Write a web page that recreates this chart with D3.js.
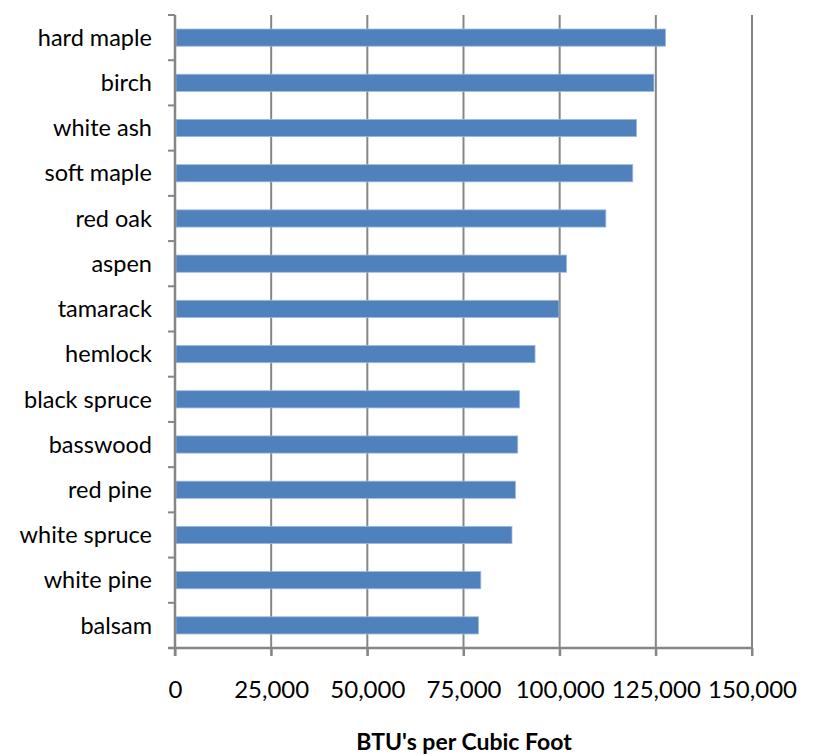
<!DOCTYPE html>
<html><head><meta charset="utf-8">
<script src="https://cdn.jsdelivr.net/npm/d3@7"></script>
<style>body{margin:0;background:#fff}svg{display:block}</style>
</head><body>
<svg id="c" width="814" height="756"></svg>
<script>
const categories = ["hard maple","birch","white ash","soft maple","red oak","aspen","tamarack","hemlock","black spruce","basswood","red pine","white spruce","white pine","balsam"];
const values = [127500,124500,120000,119000,112000,101800,99800,93600,89600,89100,88500,87600,79500,78900];
const xTicks = [0,25000,50000,75000,100000,125000,150000];
const xTitle = "BTU's per Cubic Foot";

(function(){
const svg = d3.select("#c");
const L = 175, R = 752, T = 15, B = 648;
const font = "Lato, 'Open Sans', sans-serif";

const x = d3.scaleLinear().domain([0,150000]).range([L,R]);
const y = d3.scaleBand().domain(categories).range([T,B]).paddingInner(0.62).paddingOuter(0.31);

// gridlines
svg.append("g").selectAll("line").data(xTicks.filter(d=>d>0)).join("line")
  .attr("x1",d=>x(d)).attr("x2",d=>x(d)).attr("y1",T).attr("y2",B+8)
  .attr("stroke","#868686").attr("stroke-width",2);

// bars
svg.append("g").selectAll("rect").data(categories).join("rect")
  .attr("x",x(0)+1).attr("y",d=>y(d))
  .attr("width",(d,i)=>x(values[i])-x(0)-1).attr("height",y.bandwidth())
  .attr("fill","#4F81BD").attr("stroke","#9DB8DD").attr("stroke-width",0.8);

// x axis
const xa = svg.append("g").attr("transform",`translate(0,${B})`)
  .call(d3.axisBottom(x).tickValues(xTicks).tickSize(8).tickFormat(d3.format(",")));
xa.select(".domain").attr("stroke","#868686").attr("stroke-width",2.5).attr("d",`M${L-7},0H${R}`);
xa.selectAll(".tick line").attr("stroke","#868686").attr("stroke-width",2);
xa.selectAll(".tick text").attr("y",50).attr("dy",0)
  .attr("font-family",font).attr("font-size",24).attr("fill","#000");

// y axis
const bounds = categories.map(c=>y(c)-y.step()*y.paddingInner()/2).concat([B]);
svg.append("line").attr("x1",L).attr("x2",L).attr("y1",T).attr("y2",B+8)
  .attr("stroke","#868686").attr("stroke-width",2.5);
svg.append("g").selectAll("line").data(bounds).join("line")
  .attr("x1",L-7).attr("x2",L).attr("y1",d=>d).attr("y2",d=>d)
  .attr("stroke","#868686").attr("stroke-width",2);
svg.append("g").selectAll("text").data(categories).join("text")
  .attr("x",152).attr("y",d=>y(d)+y.bandwidth()/2).attr("dy","0.35em")
  .attr("text-anchor","end").attr("font-family",font).attr("font-size",23.5).attr("fill","#000")
  .text(d=>d);

// title
svg.append("text").attr("x",464).attr("y",750).attr("text-anchor","middle")
  .attr("font-family",font).attr("font-size",23).attr("font-weight","bold").attr("fill","#000")
  .text(xTitle);
})();
</script>
</body></html>
